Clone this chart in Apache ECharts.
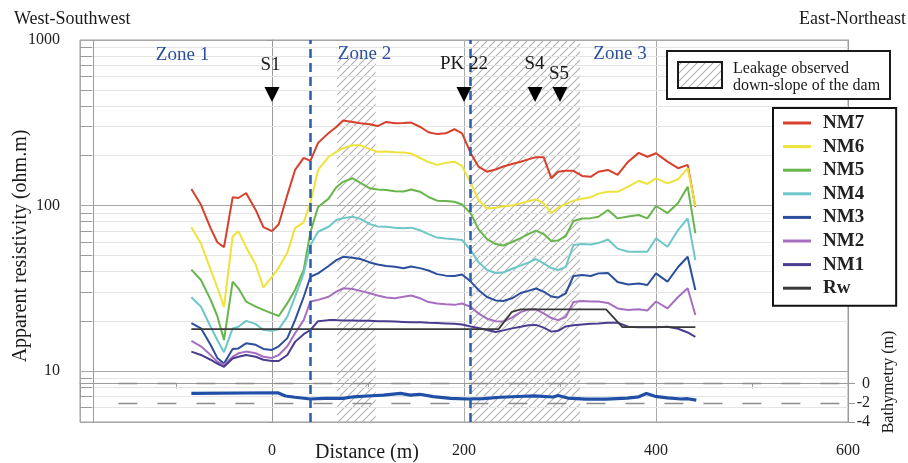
<!DOCTYPE html>
<html>
<head>
<meta charset="utf-8">
<title>Apparent resistivity profile</title>
<script src="https://cdn.jsdelivr.net/npm/echarts@6/dist/echarts.min.js"></script>
<style>
  html, body { margin:0; padding:0; background:#fff; }
  #chart { width:908px; height:463px; }
</style>
</head>
<body>
<div id="chart"></div>
<script>
// ---- data ----
const distance = [-84,-74,-64,-57,-50,-41,-35,-27,-17,-9,0,7,16,24,33,40,48,59,67,74,84,92,102,110,119,128,137,145,155,163,
  172,181,190,198,207,215,224,233,241,250,259,267,275,283,291,298,306,314,323,332,340,350,360,371,382,391,400,412,423,433,441];
const nm7 = [126,101,73,60,56,112,111,119,94,74,70,77,116,164,194,186,239,274,298,326,320,314,310,302,320,314,315,317,297,277,
  270,273,289,273,207,172,160,165,172,178,184,190,196,196,146,160,162,162,151,149,160,164,153,184,208,197,207,184,168,176,98];
const nm6 = [74,59,41,32,24.4,65,70,56,44,32,37,42,52,73,79,104,164,197,211,222,231,231,219,211,212,210,209,206,193,183,
  176,181,184,173,137,108,96,97,99,100,103,106,109,103,90,97,102,107,110,112,118,121,121,130,141,135,146,136,144,168,99];
const nm5 = [41,35.5,27,21.5,15.4,34.7,31.6,26.3,24.5,23.4,22.3,21.5,25.7,30.9,40.8,69,98,110,129,139,146,137,127,125,124,122,121.5,125,120.6,112.6,
  107,106.5,105.4,101.4,89.6,72,62.7,58.5,57.3,60.2,63.5,67.2,70.6,67.2,61,61.5,65.4,80.6,83.4,83.9,85.5,93.9,83.6,85.8,87.6,83.6,99.3,90,103.5,130,68];
const nm4 = [27.9,24.5,18.5,15.4,13,18.1,18.5,20.1,19.2,17.7,17.5,17.9,21.3,28.1,38.9,57.7,69.4,74.4,81.7,83.9,85.5,83,77.2,74.8,74.4,73.5,72.9,73.5,70.6,67.2,
  64,63.1,62.5,61.9,53.8,45.5,40.8,39.1,39.4,41.5,43.4,45.2,47.5,44.7,41.9,40.8,42.6,57.7,58.5,58.1,59.3,62.3,54.9,52.5,52.5,52.5,63.4,56.3,71.1,83.6,46.8];
const nm3 = [19.5,18.1,14.4,12,11.1,13.6,13.7,14.7,14.4,13.6,13.4,14.1,15.8,20.3,28,37.1,38.9,43.1,46.8,49,48.4,47.5,45.3,44,43.1,42.7,41.8,42.8,41.7,40.5,
  38.5,37.7,37.5,38.3,34.7,30.9,28,26.7,26.5,27.5,29.6,30.5,31.5,30.2,28.2,27.8,29.5,37.5,38,37.5,38.9,39.1,34.5,33.3,33.8,33.1,38.9,34.7,42.5,49,30.9];
const nm2 = [15.2,14.1,12.5,11.4,10.9,12.2,12.8,13.1,12.8,12.2,12,12.5,14.1,16.9,20.3,26.3,26.9,28.1,30.2,31.6,31.3,30.5,29.5,28.6,27.8,27.5,28.1,28.6,27.4,26.1,
  25.6,25.3,25.1,25.6,24.4,22.3,20.7,20,19.9,21,22.7,23.5,23.6,22.3,20.9,20.3,21.2,26.1,26.5,26.3,26.3,25.8,23.9,23.4,23.6,23.2,26.3,23.9,28,31.6,21.8];
const nm1 = [13.1,12.5,11.7,11.1,10.6,11.9,12.2,12.5,12.2,11.7,11.5,11.5,12.5,15,16.7,17.7,20,20.3,20.3,20.2,20.2,20.1,20.1,20,20,19.9,19.8,19.7,19.7,19.6,
  19.5,19.4,19.3,19.1,18.6,18.2,17.7,17.2,17.6,18.1,18.5,18.9,19,18.3,17.3,17.5,18.6,18.9,19.1,19.3,19.4,19.6,19.6,18.5,18.4,18.4,18.4,18.5,18,17.1,16.1];
const rwDist = [-84,236,250,259,348,365,441];
const rwVal  = [17.9,17.9,22.8,23.6,23.6,18.4,18.4];
const bathyDist  = [-84,6,14,24,40,55,74,85,99,116,134,144,154,168,186,204,220,238,256,273,293,298,308,327,348,370,382,390,399,412,426,433,442];
const bathyDepth = [-1.02,-0.96,-1.3,-1.43,-1.61,-1.54,-1.54,-1.38,-1.3,-1.2,-1.02,-1.2,-1.12,-1.37,-1.54,-1.61,-1.58,-1.43,-1.35,-1.28,
  -1.4,-1.25,-1.51,-1.63,-1.63,-1.51,-1.38,-1.04,-1.33,-1.49,-1.61,-1.58,-1.72];
const stations    = ['S1','PK 22','S4','S5'];
const stationDist = [0,200,274,300];
const leakage     = [[68,108],[206,321]];   // hatched stretches (m)
const zoneBounds  = [40,206];
const yLabels     = [10,100,1000];
const minorTicks  = [6,7,8,9,20,30,40,50,60,70,80,90,200,300,400,500,600,700,800,900];
const bathyTicks  = [0,-2,-4];
const legendNames = ['NM7','NM6','NM5','NM4','NM3','NM2','NM1','Rw'];

const FONT = "'Liberation Serif','DejaVu Serif',serif";
const C = { nm7:'#d6402c', nm6:'#ede33a', nm5:'#68b54b', nm4:'#6dc6c8', nm3:'#2b4f9c', nm2:'#a66fc0',
  nm1:'#4a3d8f', rw:'#3a3a3a', bathy:'#1f4fa6', zone:'#2c4f9e', axis:'#9b9b9b' };

function hatch(){
  const c = document.createElement('canvas');
  c.width = c.height = 8;
  const g = c.getContext('2d');
  g.strokeStyle = '#b0b0b0'; g.lineWidth = 1.1;
  g.beginPath();
  g.moveTo(0,8); g.lineTo(8,0);
  g.moveTo(-2,2); g.lineTo(2,-2);
  g.moveTo(6,10); g.lineTo(10,6);
  g.stroke();
  return { image:c, repeat:'repeat' };
}
const pattern = hatch();

function line(name, vals, color){
  return { name, type:'line', data:distance.map((d,i)=>[d, vals[i]]), symbol:'none',
    lineStyle:{ width:2, color }, itemStyle:{ color }, z:3, silent:true };
}
function txt(text, x, y, size, style, rotation){
  return { type:'text', x, y, rotation:rotation||0, silent:true, z:20,
    style:Object.assign({ text, fontFamily:FONT, fontSize:size, fill:'#1a1a1a', align:'center', verticalAlign:'middle' }, style||{}) };
}
const noLab = { show:false };

const chart = echarts.init(document.getElementById('chart'));
chart.setOption({
  animation:false,
  backgroundColor:'#fff',
  grid:{ left:80, right:60, top:40, bottom:41, show:true, borderColor:C.axis, borderWidth:1 },
  xAxis:{ type:'value', min:-200, max:600, interval:200,
    axisLine:{ lineStyle:{ color:C.axis } },
    axisTick:{ length:15, lineStyle:{ color:C.axis } },
    minorTick:{ show:true, splitNumber:2, length:5, lineStyle:{ color:C.axis } },
    splitLine:{ show:true, lineStyle:{ color:'#ababab' } },
    axisLabel:{ formatter:v => v === -200 ? '' : String(v), margin:21, fontFamily:FONT, fontSize:16, color:'#222' } },
  yAxis:[
    { type:'log', logBase:10, min:4.92, max:1000,
      axisLine:{ show:true, lineStyle:{ color:C.axis } },
      axisTick:{ show:true, length:5, lineStyle:{ color:C.axis } },
      splitLine:{ show:true, lineStyle:{ color:'#a8a8a8' } },
      axisLabel:{ formatter:v => yLabels.includes(Math.round(v)) ? String(Math.round(v)) : '',
        margin:20, fontFamily:FONT, fontSize:16, color:'#222' } },
    { type:'value', position:'right', min:-4, max:35.7, interval:2,
      axisLine:{ show:true, lineStyle:{ color:C.axis } },
      axisTick:{ show:true, length:7, customValues:bathyTicks, lineStyle:{ color:C.axis } },
      splitLine:{ show:false },
      axisLabel:{ customValues:bathyTicks, formatter:v => v <= 0 ? String(v) : '', align:'right', margin:22,
        fontFamily:FONT, fontSize:16, color:'#222' } }
  ],
  legend:{ data:legendNames.map(n => ({ name:n, icon:'rect' })), orient:'vertical', left:773, top:108,
    backgroundColor:'#fff', borderColor:'#111', borderWidth:2, padding:[5.5,32,8,10],
    itemWidth:28, itemHeight:3, itemGap:4.6, selectedMode:false,
    textStyle:{ fontFamily:FONT, fontSize:19, fontWeight:'bold', color:'#222', padding:[0,0,0,7] } },
  series:[
    { name:'grid', type:'line', data:[], silent:true,
      markArea:{ silent:true, z:1, itemStyle:{ color:pattern },
        data:leakage.map((r,i) => [{ xAxis:r[0], yAxis:i === 0 ? 780 : 1000 }, { xAxis:r[1], yAxis:4.92 }]) },
      markLine:{ silent:true, z:1, symbol:'none', label:noLab, lineStyle:{ color:'#e4e4e4', width:1, type:'solid' },
        data:minorTicks.map(v => ({ yAxis:v })) } },
    { name:'ticks', type:'line', data:[], silent:true,
      markLine:{ silent:true, z:2, symbol:'none', label:noLab, lineStyle:{ color:'#9b9b9b', width:1, type:'solid' },
        data:minorTicks.map(v => [{ coord:[-200, v] }, { coord:[-187.5, v] }]).concat([{ xAxis:-186 }]) } },
    line('NM7', nm7, C.nm7),
    line('NM6', nm6, C.nm6),
    line('NM5', nm5, C.nm5),
    line('NM4', nm4, C.nm4),
    line('NM3', nm3, C.nm3),
    line('NM2', nm2, C.nm2),
    line('NM1', nm1, C.nm1),
    { name:'Rw', type:'line', data:rwDist.map((d,i)=>[d, rwVal[i]]), symbol:'none', silent:true, z:3,
      lineStyle:{ width:1.8, color:C.rw }, itemStyle:{ color:C.rw } },
    { name:'Bathymetry', type:'line', yAxisIndex:1, data:bathyDist.map((d,i)=>[d, bathyDepth[i]]), symbol:'none', silent:true, z:3,
      lineStyle:{ width:3.2, color:C.bathy }, itemStyle:{ color:C.bathy },
      markLine:{ silent:true, z:2, symbol:'none', label:noLab, lineStyle:{ color:'#8c8c8c', width:1.3, type:[19,20] },
        data:[0,-2].map(v => [{ coord:[-160, v] }, { coord:[600, v] }]) } },
    { name:'marks', type:'line', data:[], silent:true,
      markLine:{ silent:true, z:6, symbol:'none', label:noLab, lineStyle:{ color:'#2d5bab', width:2.5, type:[9,5] },
        data:zoneBounds.map(v => ({ xAxis:v })) },
      markPoint:{ silent:true, z:7, symbol:'triangle', symbolRotate:180, symbolSize:[15,15], label:noLab,
        itemStyle:{ color:'#000' },
        data:stationDist.map((d,i) => ({ name:stations[i], coord:[d, 469] })) } }
  ],
  graphic:[
    txt('West-Southwest', 14, 19.5, 18, { align:'left' }),
    txt('East-Northeast', 906, 19.5, 18, { align:'right' }),
    txt('Zone 1', 182.5, 55.5, 19, { fill:C.zone }),
    txt('Zone 2', 364.5, 54.5, 19, { fill:C.zone }),
    txt('Zone 3', 620, 54.5, 19, { fill:C.zone }),
    txt(stations[0], 270.5, 65, 19),
    txt(stations[1], 464, 64.5, 19),
    txt(stations[2], 534.5, 64, 19),
    txt(stations[3], 559, 74.5, 19),
    txt('Apparent resistivity (ohm.m)', 21, 246, 20, null, Math.PI/2),
    txt('Distance (m)', 367, 452.5, 20),
    txt('Bathymetry (m)', 889, 382, 16, null, Math.PI/2),
    { type:'rect', silent:true, z:15, shape:{ x:667, y:51, width:223, height:48 },
      style:{ fill:'#fff', stroke:'#1a1a1a', lineWidth:2 } },
    { type:'rect', silent:true, z:16, shape:{ x:678, y:62, width:44, height:26 },
      style:{ fill:pattern, stroke:'#1a1a1a', lineWidth:2 } },
    txt('Leakage observed', 733, 69, 16, { align:'left' }),
    txt('down-slope of the dam', 733, 86, 16, { align:'left' })
  ]
});
</script>
</body>
</html>
